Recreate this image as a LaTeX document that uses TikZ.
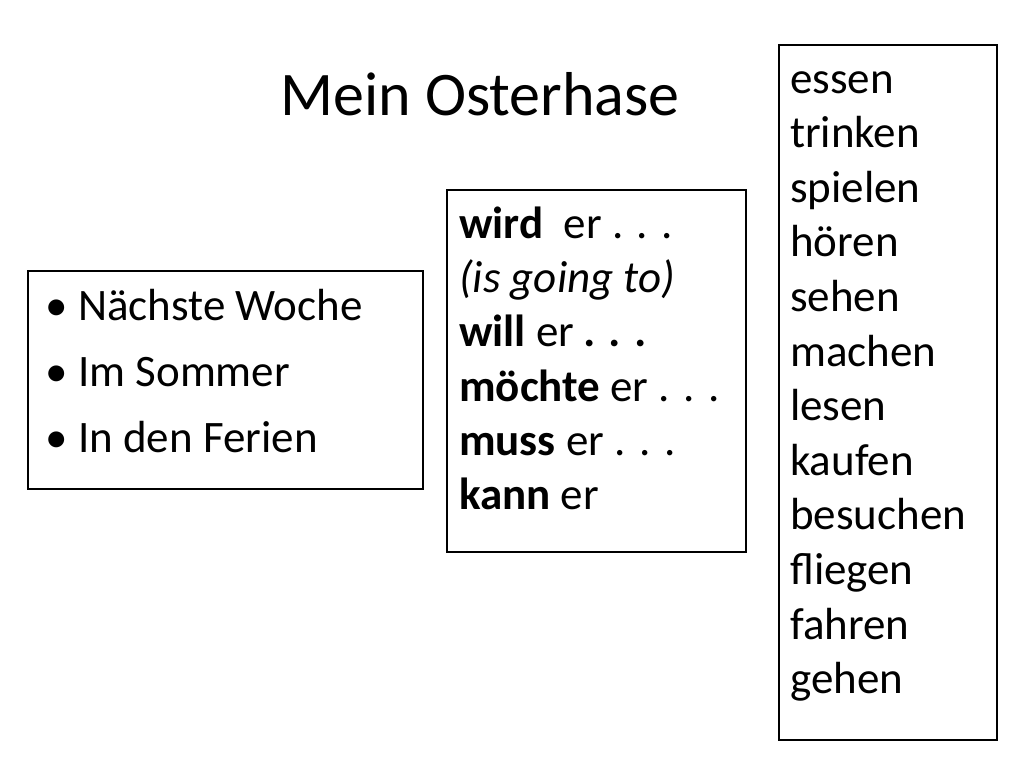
\documentclass[tikz,border=0pt]{standalone}
\usepackage{fontspec}
\setmainfont{Carlito}
\begin{document}
\begin{tikzpicture}[x=1pt,y=-1pt,
 box/.style={draw=black,line width=2.5pt},
 t/.style={anchor=base west,inner sep=0pt,font=\fontsize{45}{54}\selectfont}]
\useasboundingbox[fill=white] (0,0) rectangle (1024,768);
\node[anchor=base,inner sep=0pt,font=\fontsize{62}{70}\selectfont] (title) at (480,115) {Mein Osterhase};
\draw[box] (28,271) rectangle (423,489);
\draw[box] (447,190) rectangle (746,552);
\draw[box] (779,45) rectangle (997,740);
\foreach \txt [count=\i from 0] in {Nächste Woche,Im Sommer,In den Ferien}{
  \node[t] (b\i) at (78,{320+66*\i}) {\txt};
  \node[t] (d\i) at (45,{320+66*\i}) {•};
}
\node[t] (m0) at (459,238) {\textbf{wird}\ \ er . . .};
\node[t] (m1) at (459,292) {\textit{(is going to)}};
\node[t] (m2) at (459,346) {\textbf{will} er \textbf{\textit{. . .}}};
\node[t] (m3) at (459,401) {\textbf{möchte} er . . .};
\node[t] (m4) at (459,455) {\textbf{muss} er . . .};
\node[t] (m5) at (459,509) {\textbf{kann} er};
\foreach \w [count=\i from 0] in {essen,trinken,spielen,hören,sehen,machen,lesen,kaufen,besuchen,fliegen,fahren,gehen}{
  \node[t] (r\i) at (790,{93+54.6*\i}) {\w};
}
\end{tikzpicture}
\end{document}
